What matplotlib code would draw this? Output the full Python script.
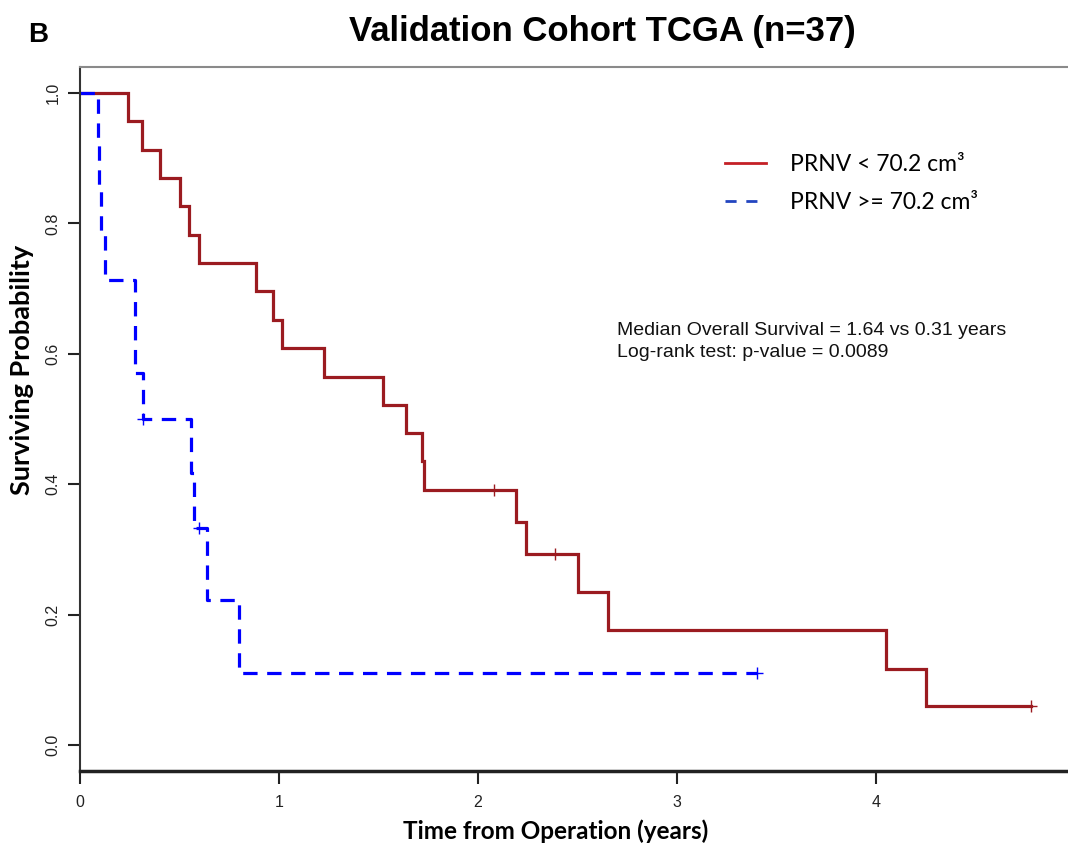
import matplotlib
matplotlib.use("Agg")
import matplotlib.pyplot as plt
from matplotlib.lines import Line2D

# ---- data ----
low_times = [0, 0.24, 0.31, 0.40, 0.505, 0.548, 0.60, 0.885, 0.97, 1.015, 1.225,
             1.525, 1.64, 1.72, 1.73, 2.19, 2.24, 2.505, 2.655, 4.05, 4.25, 4.78]
low_surv = [1.0, 0.957, 0.913, 0.870, 0.826, 0.783, 0.739, 0.696, 0.652, 0.609, 0.565,
            0.522, 0.478, 0.435, 0.391, 0.342, 0.293, 0.234, 0.176, 0.117, 0.059, 0.059]
low_cens_t = [2.08, 2.385, 4.78]
low_cens_s = [0.391, 0.293, 0.059]

high_times = [0, 0.09, 0.095, 0.105, 0.125, 0.276, 0.315, 0.56, 0.575, 0.64, 0.80, 3.40]
high_surv = [1.0, 0.929, 0.857, 0.786, 0.714, 0.571, 0.5, 0.417, 0.333, 0.222, 0.111, 0.111]
high_cens_t = [0.316, 0.60, 3.40]
high_cens_s = [0.5, 0.333, 0.111]

x_ticks = [0, 1, 2, 3, 4, 5]
y_ticks = [0.0, 0.2, 0.4, 0.6, 0.8, 1.0]
y_tick_labels = ["0.0", "0.2", "0.4", "0.6", "0.8", "1.0"]

label_low = "PRNV < 70.2 cm³"
label_high = "PRNV >= 70.2 cm³"
stats_lines = ["Median Overall Survival = 1.64 vs 0.31 years",
               "Log-rank test: p-value = 0.0089"]

RED = "#9B1B20"
BLUE = "#0000FF"

W, H = 1068, 847
fig = plt.figure(figsize=(W / 100, H / 100), dpi=100)
ax = fig.add_axes([80 / W, (H - 771) / H, 995 / W, (771 - 67) / H])

ax.step(low_times, low_surv, where="post", color=RED, lw=2.3, solid_joinstyle="miter")
ax.step(high_times, high_surv, where="post", color=BLUE, lw=2.3, linestyle=(0, (4.5, 3)))
ax.plot(low_cens_t, low_cens_s, linestyle="none", marker="+", ms=9, mew=1.0, color=RED)
ax.plot(high_cens_t, high_cens_s, linestyle="none", marker="+", ms=9, mew=1.0, color=BLUE)

ax.set_xlim(0, 5)
ax.set_ylim(-0.04, 1.04)
ax.set_xticks(x_ticks)
ax.set_yticks(y_ticks)
ax.set_yticklabels(y_tick_labels, rotation=90, va="center")
ax.tick_params(axis="both", length=9, width=1.5, color="#222222",
               labelsize=11.5, labelcolor="#222222")
ax.tick_params(axis="x", pad=8)
ax.tick_params(axis="y", pad=5)
for lab in ax.get_xticklabels() + ax.get_yticklabels():
    lab.set_family("Liberation Sans")

ax.spines["top"].set_color("#8a8a8a")
ax.spines["top"].set_linewidth(1.5)
ax.spines["right"].set_visible(False)
ax.spines["left"].set_color("#333333")
ax.spines["left"].set_linewidth(1.5)
ax.spines["bottom"].set_color("#222222")
ax.spines["bottom"].set_linewidth(2.5)

handles = [Line2D([], [], color="#C42026", lw=2.0),
           Line2D([], [], color="#2345C0", lw=2.0, linestyle=(0, (4, 3.5)))]
leg = ax.legend(handles, [label_low, label_high], loc="upper left",
                bbox_to_anchor=((725 - 80) / 995, (771 - 154) / 704),
                frameon=False, handlelength=1.8, handletextpad=1.05, borderpad=0,
                borderaxespad=0, labelspacing=0.75,
                prop={"family": "Lato", "size": 16.5})

for i, line in enumerate(stats_lines):
    fig.text(617 / W, 1 - (330 + 22 * i) / H, line, family="Liberation Sans",
             fontsize=14, ha="left", va="center", color="#111111")

fig.text(602 / W, 1 - 32 / H, "Validation Cohort TCGA (n=37)", family="Liberation Sans",
         fontweight="bold", fontsize=25, ha="center", va="center")
fig.text(38 / W, 1 - 35 / H, "B", family="Liberation Sans", fontweight="bold",
         fontsize=20, ha="center", va="center")
fig.text(556 / W, 1 - 831 / H, "Time from Operation (years)", family="Lato",
         fontweight="bold", fontsize=17.5, ha="center", va="center")
fig.text(22 / W, 1 - 370 / H, "Surviving Probability", family="Lato",
         fontweight="bold", fontsize=19.5, ha="center", va="center", rotation=90)

fig.savefig("out.png", dpi=100)
